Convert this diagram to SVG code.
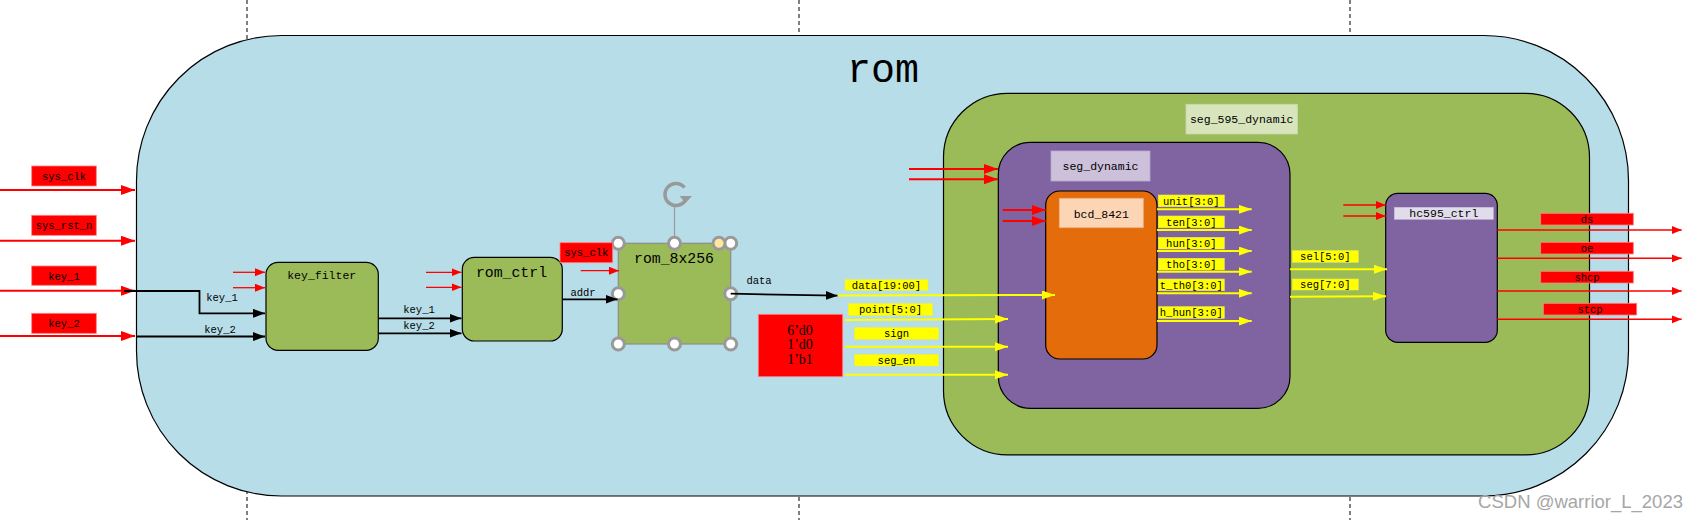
<svg xmlns="http://www.w3.org/2000/svg" width="1699" height="520" viewBox="0 0 1699 520">
<style>
.mono{font-family:"Liberation Mono","DejaVu Sans Mono",monospace;fill:#000;text-anchor:middle}
.s{font-size:10.5px}
.m{font-size:11.5px}
.l{font-size:14.8px}
.rl{fill:#FF0000;stroke:#FF8080;stroke-width:0.8}
.yl{fill:#FFFF00;stroke:#E8E860;stroke-width:0.6}
.red{stroke:#FF0000;fill:none}
.blk{stroke:#000;fill:none}
.yel{stroke:#FFFF00;fill:none;stroke-width:2}
.handle{fill:#fff;stroke:#999;stroke-width:3}
</style>
<defs>
<marker id="rb" markerUnits="userSpaceOnUse" markerWidth="16" markerHeight="12" refX="14" refY="5" orient="auto"><path d="M0,0 L14,5 L0,10 Z" fill="#FF0000"/></marker>
<marker id="rs" markerUnits="userSpaceOnUse" markerWidth="12" markerHeight="10" refX="10" refY="4" orient="auto"><path d="M0,0 L10,4 L0,8 Z" fill="#FF0000"/></marker>
<marker id="bk" markerUnits="userSpaceOnUse" markerWidth="14" markerHeight="10" refX="12" refY="4.5" orient="auto"><path d="M0,0 L12,4.5 L0,9 Z" fill="#000"/></marker>
<marker id="ye" markerUnits="userSpaceOnUse" markerWidth="15" markerHeight="10" refX="13" refY="4.5" orient="auto"><path d="M0,0 L13,4.5 L0,9 Z" fill="#FFFF00"/></marker>
</defs>
<rect width="1699" height="520" fill="#fff"/>
<g id="guides" stroke="#000" stroke-width="1" stroke-dasharray="4,3">
<line x1="247" y1="0" x2="247" y2="520"/>
<line x1="799" y1="0" x2="799" y2="520"/>
<line x1="1350" y1="0" x2="1350" y2="520"/>
</g>
<g id="rom">
<rect x="136.5" y="35.5" width="1492" height="460.5" rx="145" ry="145" fill="#B7DDE8" stroke="#000" stroke-width="1.2"/>
<text x="883" y="82" text-anchor="middle" font-family="Liberation Mono, monospace" font-size="40">rom</text>
</g>
<g id="seg_595_dynamic">
<rect x="943.5" y="93.3" width="646" height="361.5" rx="64" ry="64" fill="#9BBB59" stroke="#000" stroke-width="1.2"/>
<rect x="1186" y="104.3" width="111.5" height="29.7" fill="#D8E4BC" stroke="#C8D8A8" stroke-width="0.8"/>
<text class="mono m" x="1241.7" y="123">seg_595_dynamic</text>
</g>
<g id="seg_dynamic">
<rect x="998.3" y="142.3" width="291.7" height="266" rx="32" ry="32" fill="#8064A2" stroke="#000" stroke-width="1.2"/>
<rect x="1051" y="151" width="99" height="30" fill="#CCC0DA" stroke="#B8A8CC" stroke-width="0.8"/>
<text class="mono m" x="1100.5" y="170">seg_dynamic</text>
</g>
<g id="bcd_8421">
<rect x="1045.7" y="191" width="111.3" height="168" rx="14" ry="14" fill="#E46C0A" stroke="#000" stroke-width="1.2"/>
<rect x="1059.3" y="198.3" width="84" height="29.4" fill="#FCD5B5" stroke="#F0B080" stroke-width="0.8"/>
<text class="mono m" x="1101.3" y="217.5">bcd_8421</text>
</g>
<g id="hc595_ctrl">
<rect x="1385.7" y="193.3" width="111.6" height="149" rx="12" ry="12" fill="#8064A2" stroke="#000" stroke-width="1.2"/>
<rect x="1394.3" y="207.3" width="99" height="12" fill="#E0DCEA" stroke="#C8C0D8" stroke-width="0.6"/>
<text class="mono m" x="1443.8" y="217.3">hc595_ctrl</text>
</g>
<g id="key_filter">
<rect x="266" y="262.3" width="112.3" height="88" rx="12" ry="12" fill="#9BBB59" stroke="#000" stroke-width="1.2"/>
<text class="mono m" x="321.7" y="278.5">key_filter</text>
</g>
<g id="rom_ctrl">
<rect x="462.3" y="257.3" width="100" height="83.7" rx="12" ry="12" fill="#9BBB59" stroke="#000" stroke-width="1.2"/>
<text class="mono l" x="511.5" y="277">rom_ctrl</text>
</g>
<g id="rom_8x256">
<line x1="674.5" y1="206" x2="674.5" y2="243.3" stroke="#999" stroke-width="1.2"/>
<rect x="618.3" y="243.3" width="112.4" height="100.7" fill="#9BBB59" stroke="#8C8C8C" stroke-width="1.2"/>
<text class="mono l" x="674" y="263">rom_8x256</text>
<path d="M684.5,187.5 A11 11 0 1 0 685.5,200" fill="none" stroke="#999" stroke-width="3.5"/>
<path d="M679.5,196 L692,196 L685.5,203 Z" fill="#999"/>
<circle class="handle" cx="618.3" cy="243.3" r="6"/>
<circle class="handle" cx="674.5" cy="243.3" r="6"/>
<circle class="handle" cx="730.7" cy="243.3" r="6"/>
<circle cx="719" cy="243.3" r="6" fill="#FFE699" stroke="#999" stroke-width="3"/>
<circle class="handle" cx="618.3" cy="293.7" r="6"/>
<circle class="handle" cx="730.7" cy="293.7" r="6"/>
<circle class="handle" cx="618.3" cy="344" r="6"/>
<circle class="handle" cx="674.5" cy="344" r="6"/>
<circle class="handle" cx="730.7" cy="344" r="6"/>
</g>
<g id="constants">
<rect x="758.3" y="314.3" width="84.4" height="62.4" fill="#FF0000" stroke="#FF8080" stroke-width="0.8"/>
<text x="800" y="335" text-anchor="middle" font-family="Liberation Serif, serif" font-size="14">6’d0</text>
<text x="800" y="349" text-anchor="middle" font-family="Liberation Serif, serif" font-size="14">1’d0</text>
<text x="800" y="364" text-anchor="middle" font-family="Liberation Serif, serif" font-size="14">1’b1</text>
</g>
<g id="labels" text-anchor="middle">
<rect class="rl" x="31.7" y="166" width="64.6" height="20"/>
<rect class="rl" x="31.7" y="215.3" width="64.6" height="20"/>
<rect class="rl" x="31.7" y="266" width="64.6" height="19.3"/>
<rect class="rl" x="31.7" y="313.3" width="64.6" height="20"/>
<rect class="rl" x="560" y="242.7" width="52.7" height="20"/>
<rect class="rl" x="1540.7" y="213.3" width="92.6" height="11.7"/>
<rect class="rl" x="1540.7" y="242.3" width="92.6" height="11.7"/>
<rect class="rl" x="1540.7" y="271.3" width="92.6" height="11.7"/>
<rect class="rl" x="1543.3" y="303.3" width="93.4" height="11.7"/>
<rect class="yl" x="845" y="279.5" width="83" height="11"/>
<rect class="yl" x="848.3" y="303.3" width="84.4" height="12.4"/>
<rect class="yl" x="854.3" y="327.3" width="84.4" height="12"/>
<rect class="yl" x="854.3" y="354.3" width="84.4" height="11.7"/>
<rect class="yl" x="1158.3" y="195" width="66" height="11.7"/>
<rect class="yl" x="1158.3" y="216" width="66" height="11.7"/>
<rect class="yl" x="1158.3" y="237.3" width="66" height="11.7"/>
<rect class="yl" x="1158.3" y="258.3" width="66" height="11.7"/>
<rect class="yl" x="1158.3" y="279" width="66" height="11.7"/>
<rect class="yl" x="1158.3" y="306.7" width="66" height="11.6"/>
<rect class="yl" x="1292.3" y="250.7" width="66" height="11.6"/>
<rect class="yl" x="1292.3" y="279" width="66" height="11"/>
<g class="mono s">
<text x="64" y="179.5">sys_clk</text>
<text x="64" y="229">sys_rst_n</text>
<text x="64" y="279.5">key_1</text>
<text x="64" y="327">key_2</text>
<text x="586.3" y="256">sys_clk</text>
<text x="1587" y="223">ds</text>
<text x="1587" y="252">oe</text>
<text x="1587" y="281">shcp</text>
<text x="1590" y="313">stcp</text>
<text x="222" y="300.5">key_1</text>
<text x="220" y="332.5">key_2</text>
<text x="419" y="313">key_1</text>
<text x="419" y="328.5">key_2</text>
<text x="583" y="296.3">addr</text>
<text x="759" y="283.5">data</text>
<text x="886.5" y="288.5">data[19:00]</text>
<text x="890.5" y="313">point[5:0]</text>
<text x="896.5" y="337">sign</text>
<text x="896.5" y="363.5">seg_en</text>
<text x="1191.3" y="204.5">unit[3:0]</text>
<text x="1191.3" y="225.5">ten[3:0]</text>
<text x="1191.3" y="246.8">hun[3:0]</text>
<text x="1191.3" y="267.8">tho[3:0]</text>
<text x="1191.3" y="288.5">t_th0[3:0]</text>
<text x="1191.3" y="316">h_hun[3:0]</text>
<text x="1325.3" y="260">sel[5:0]</text>
<text x="1325.3" y="288">seg[7:0]</text>
</g>
</g>
<g id="connectors">
<line class="red" x1="0" y1="190" x2="135" y2="190" stroke-width="2" marker-end="url(#rb)"/>
<line class="red" x1="0" y1="240.7" x2="135" y2="240.7" stroke-width="2" marker-end="url(#rb)"/>
<line class="red" x1="0" y1="290.7" x2="135" y2="290.7" stroke-width="2" marker-end="url(#rb)"/>
<line class="red" x1="0" y1="336" x2="135" y2="336" stroke-width="2" marker-end="url(#rb)"/>
<polyline class="blk" points="124,291 199.5,291 199.5,313.3 265,313.3" stroke-width="1.8" marker-end="url(#bk)"/>
<line class="blk" x1="136" y1="336.5" x2="265" y2="336.5" stroke-width="1.8" marker-end="url(#bk)"/>
<line class="red" x1="233" y1="272.3" x2="265" y2="272.3" stroke-width="1.3" marker-end="url(#rs)"/>
<line class="red" x1="233" y1="287.7" x2="265" y2="287.7" stroke-width="1.3" marker-end="url(#rs)"/>
<line class="blk" x1="378.3" y1="318.3" x2="461.5" y2="318.3" stroke-width="1.8" marker-end="url(#bk)"/>
<line class="blk" x1="378.3" y1="333.3" x2="461.5" y2="333.3" stroke-width="1.8" marker-end="url(#bk)"/>
<line class="red" x1="426" y1="272.3" x2="461.5" y2="272.3" stroke-width="1.3" marker-end="url(#rs)"/>
<line class="red" x1="426" y1="287.3" x2="461.5" y2="287.3" stroke-width="1.3" marker-end="url(#rs)"/>
<line class="blk" x1="562.3" y1="299.3" x2="617.5" y2="299.3" stroke-width="1.8" marker-end="url(#bk)"/>
<line class="red" x1="580.7" y1="270.7" x2="619" y2="270.7" stroke-width="1.2" marker-end="url(#rs)"/>
<line class="blk" x1="730.7" y1="293.7" x2="837.7" y2="295.7" stroke-width="1.8" marker-end="url(#bk)"/>
<line class="yel" x1="837.7" y1="295.5" x2="1055" y2="295" marker-end="url(#ye)"/>
<line class="yel" x1="845" y1="320" x2="1008" y2="319" marker-end="url(#ye)"/>
<line class="yel" x1="845" y1="346.7" x2="1008" y2="346.7" marker-end="url(#ye)"/>
<line class="yel" x1="845" y1="374.7" x2="1008" y2="374.7" marker-end="url(#ye)"/>
<line class="red" x1="909" y1="169" x2="998" y2="169" stroke-width="2" marker-end="url(#rb)"/>
<line class="red" x1="909" y1="179.3" x2="998" y2="179.3" stroke-width="2" marker-end="url(#rb)"/>
<line class="red" x1="1002.7" y1="210" x2="1045.7" y2="210" stroke-width="2" marker-end="url(#rb)"/>
<line class="red" x1="1002.7" y1="221" x2="1045.7" y2="221" stroke-width="2" marker-end="url(#rb)"/>
<line class="yel" x1="1157" y1="209.3" x2="1251.7" y2="209.3" marker-end="url(#ye)"/>
<line class="yel" x1="1157" y1="230" x2="1251.7" y2="230" marker-end="url(#ye)"/>
<line class="yel" x1="1157" y1="251" x2="1251.7" y2="251" marker-end="url(#ye)"/>
<line class="yel" x1="1157" y1="271.7" x2="1251.7" y2="271.7" marker-end="url(#ye)"/>
<line class="yel" x1="1157" y1="293.3" x2="1251.7" y2="293.3" marker-end="url(#ye)"/>
<line class="yel" x1="1157" y1="321" x2="1251.7" y2="321" marker-end="url(#ye)"/>
<line class="yel" x1="1290" y1="269.3" x2="1387" y2="269.3" marker-end="url(#ye)"/>
<line class="yel" x1="1290" y1="296.7" x2="1386" y2="296.3" marker-end="url(#ye)"/>
<line class="red" x1="1343.3" y1="205" x2="1385.7" y2="205" stroke-width="1.5" marker-end="url(#rs)"/>
<line class="red" x1="1343.3" y1="216" x2="1385.7" y2="216" stroke-width="1.5" marker-end="url(#rs)"/>
<line class="red" x1="1497.3" y1="230" x2="1681.7" y2="230" stroke-width="1.5" marker-end="url(#rs)"/>
<line class="red" x1="1497.3" y1="258.3" x2="1681.7" y2="258.3" stroke-width="1.5" marker-end="url(#rs)"/>
<line class="red" x1="1497.3" y1="291" x2="1681.7" y2="291" stroke-width="1.5" marker-end="url(#rs)"/>
<line class="red" x1="1497.3" y1="319.3" x2="1681.7" y2="319.3" stroke-width="1.5" marker-end="url(#rs)"/>
</g>
<text x="1683" y="508" text-anchor="end" font-family="Liberation Sans, sans-serif" font-size="18.5" fill="#A6A6A6">CSDN @warrior_L_2023</text>
</svg>
